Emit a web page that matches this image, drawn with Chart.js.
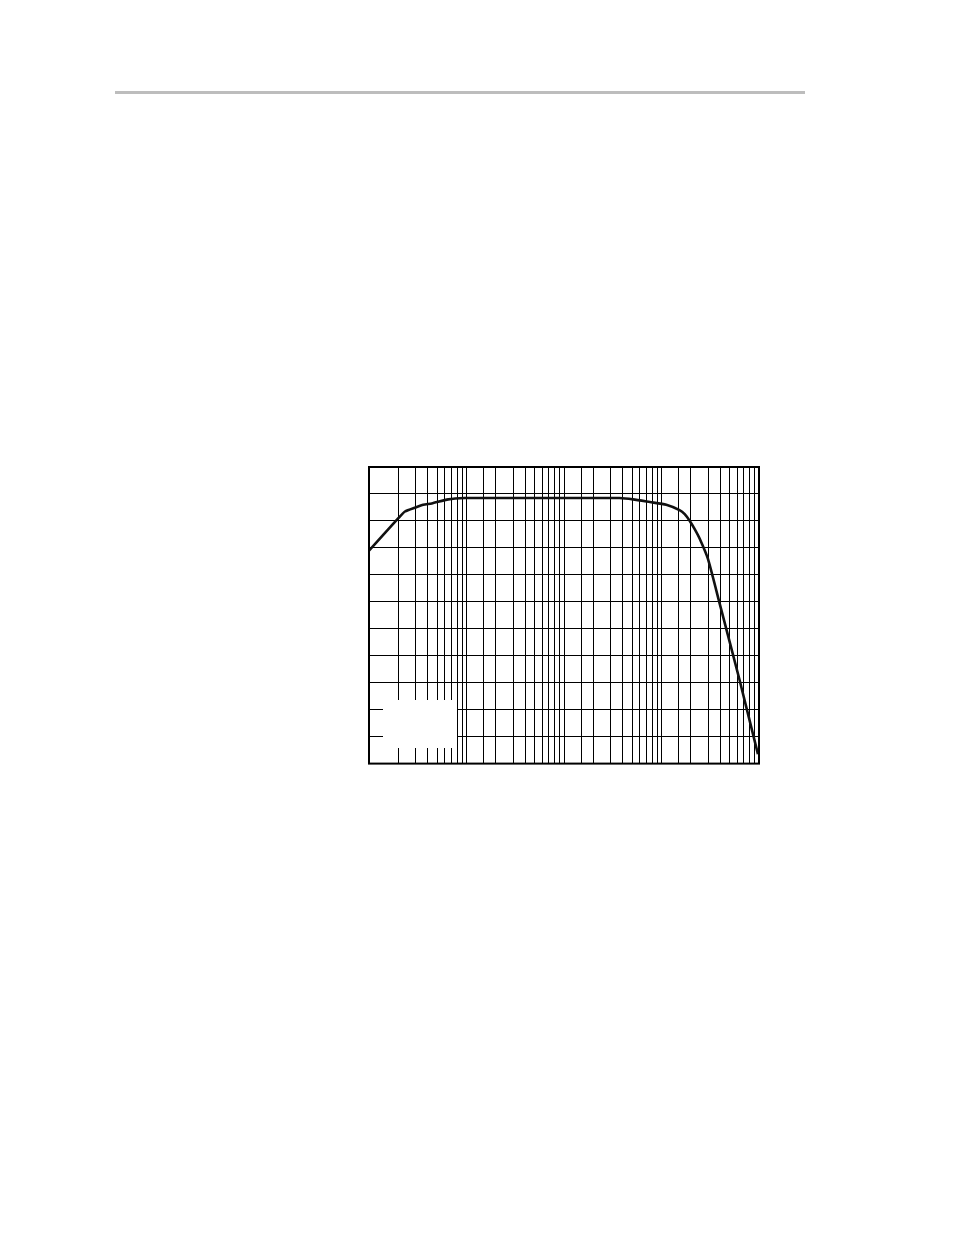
<!DOCTYPE html>
<html lang="en">
<head>
  <meta charset="UTF-8" />
  <title>Response curve</title>
  <script src="https://cdn.jsdelivr.net/npm/chart.js"></script>
  <style>
    html, body { margin: 0; padding: 0; background: #fff; }
    body { width: 954px; height: 1235px; position: relative; overflow: hidden; }
    .rule {
      position: absolute; left: 115px; top: 91px;
      width: 690px; height: 3px; background: #bdbdbd;
    }
    #wrap {
      position: absolute; left: 359px; top: 456.7px;
      width: 410px; height: 316.6px;
    }
  </style>
</head>
<body>
  <div class="rule"></div>
  <div id="wrap"><canvas id="chart"></canvas></div>

  <script>
    // frequency (Hz) and gain
    const freq = [10, 20, 23.4, 30, 36, 44, 65, 96, 150, 2300, 3700, 5100, 7600, 11200, 15300, 17300, 19500, 21900, 24600, 29900, 39400, 63200, 97500];
    const gain = [15.8, 18.2, 18.7, 19.0, 19.2, 19.3, 19.6, 19.7, 19.7, 19.7, 19.7, 19.6, 19.4, 19.2, 18.8, 18.5, 18.0, 17.4, 16.7, 15.2, 11.9, 6.2, 0.7];
    const xMin = 10, xMax = 100000;
    const yMin = 0, yMax = 22, yStep = 2;

    const points = freq.map((f, i) => ({ x: f, y: gain[i] }));

    // plain white box where the legend sits (bottom left of the plot)
    const legendBox = {
      id: 'legendBox',
      beforeDatasetsDraw(chart) {
        const a = chart.chartArea;
        const ctx = chart.ctx;
        ctx.save();
        ctx.fillStyle = '#fff';
        ctx.fillRect(a.left + 14, a.top + 233, 74, 48);
        ctx.restore();
      }
    };

    const frame = {
      id: 'frame',
      afterDatasetsDraw(chart) {
        const a = chart.chartArea;
        const ctx = chart.ctx;
        ctx.save();
        ctx.strokeStyle = '#000';
        ctx.lineWidth = 2;
        ctx.strokeRect(a.left, a.top, a.right - a.left, a.bottom - a.top);
        ctx.restore();
      }
    };

    new Chart(document.getElementById('chart'), {
      type: 'line',
      data: {
        datasets: [{
          data: points,
          borderColor: '#111',
          borderWidth: 2.6,
          pointRadius: 0,
          fill: false,
          tension: 0.2
        }]
      },
      options: {
        responsive: true,
        maintainAspectRatio: false,
        animation: false,
        layout: { padding: 10 },
        plugins: { legend: { display: false }, tooltip: { enabled: false } },
        scales: {
          x: {
            type: 'logarithmic',
            min: xMin, max: xMax,
            ticks: { display: false },
            grid: { color: '#000', lineWidth: 1, drawTicks: false },
            border: { display: false }
          },
          y: {
            min: yMin, max: yMax,
            ticks: { display: false, stepSize: yStep },
            grid: { color: '#000', lineWidth: 1, drawTicks: false },
            border: { display: false }
          }
        }
      },
      plugins: [legendBox, frame]
    });
  </script>
</body>
</html>
